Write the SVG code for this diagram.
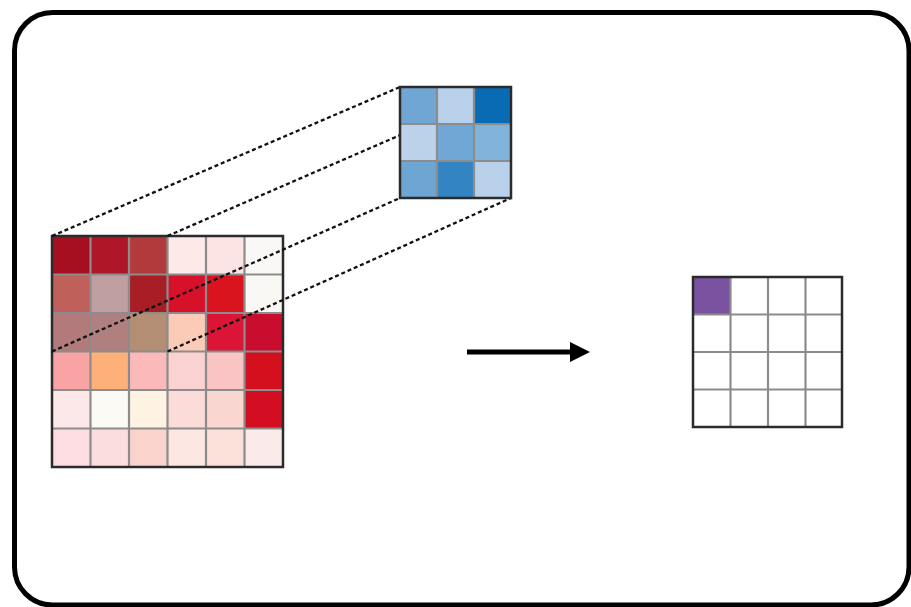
<svg xmlns="http://www.w3.org/2000/svg" width="911" height="607" viewBox="0 0 911 607">
  <style>
    .frame { fill: #ffffff; stroke: #000000; stroke-width: 5; }
    .grid { fill: none; stroke: #8c8c8c; stroke-width: 2.2; }
    .border { fill: none; stroke: #2b2b2b; stroke-width: 2.5; }
    .proj { fill: none; stroke: #111111; stroke-width: 2.3; stroke-dasharray: 4 2.8; }
    .arrow { stroke: #000000; stroke-width: 5; }
  </style>

  <!-- outer rounded frame -->
  <rect class="frame" x="14.5" y="12.5" width="894.5" height="592.5" rx="38" ry="38"/>

  <!-- 6x6 input feature map -->
  <g id="input">
    <g>
      <rect x="52" y="236" width="38.5" height="38.5" fill="#A50F1F"/>
      <rect x="90.5" y="236" width="38.5" height="38.5" fill="#AF1728"/>
      <rect x="129" y="236" width="38.5" height="38.5" fill="#B23A3C"/>
      <rect x="167.5" y="236" width="38.5" height="38.5" fill="#FCE9E8"/>
      <rect x="206" y="236" width="38.5" height="38.5" fill="#FCE4E4"/>
      <rect x="244.5" y="236" width="38.5" height="38.5" fill="#F9F8F7"/>

      <rect x="52" y="274.5" width="38.5" height="38.5" fill="#C0605A"/>
      <rect x="90.5" y="274.5" width="38.5" height="38.5" fill="#BE9EA0"/>
      <rect x="129" y="274.5" width="38.5" height="38.5" fill="#A91E24"/>
      <rect x="167.5" y="274.5" width="38.5" height="38.5" fill="#D8112A"/>
      <rect x="206" y="274.5" width="38.5" height="38.5" fill="#DA141E"/>
      <rect x="244.5" y="274.5" width="38.5" height="38.5" fill="#FAF8F4"/>

      <rect x="52" y="313" width="38.5" height="38.5" fill="#B27A7A"/>
      <rect x="90.5" y="313" width="38.5" height="38.5" fill="#B07F80"/>
      <rect x="129" y="313" width="38.5" height="38.5" fill="#B38D74"/>
      <rect x="167.5" y="313" width="38.5" height="38.5" fill="#FCCBB8"/>
      <rect x="206" y="313" width="38.5" height="38.5" fill="#DB1535"/>
      <rect x="244.5" y="313" width="38.5" height="38.5" fill="#C90D2E"/>

      <rect x="52" y="351.5" width="38.5" height="38.5" fill="#F9A3A5"/>
      <rect x="90.5" y="351.5" width="38.5" height="38.5" fill="#FDB178"/>
      <rect x="129" y="351.5" width="38.5" height="38.5" fill="#FBBAB9"/>
      <rect x="167.5" y="351.5" width="38.5" height="38.5" fill="#F9D2D1"/>
      <rect x="206" y="351.5" width="38.5" height="38.5" fill="#F9C4C3"/>
      <rect x="244.5" y="351.5" width="38.5" height="38.5" fill="#D4101F"/>

      <rect x="52" y="390" width="38.5" height="38.5" fill="#FCE8E8"/>
      <rect x="90.5" y="390" width="38.5" height="38.5" fill="#FBFAF5"/>
      <rect x="129" y="390" width="38.5" height="38.5" fill="#FEF2E2"/>
      <rect x="167.5" y="390" width="38.5" height="38.5" fill="#FBDCD8"/>
      <rect x="206" y="390" width="38.5" height="38.5" fill="#FAD6D0"/>
      <rect x="244.5" y="390" width="38.5" height="38.5" fill="#D30E22"/>

      <rect x="52" y="428.5" width="38.5" height="38.5" fill="#FDDDE2"/>
      <rect x="90.5" y="428.5" width="38.5" height="38.5" fill="#FCDDDD"/>
      <rect x="129" y="428.5" width="38.5" height="38.5" fill="#F9D3CC"/>
      <rect x="167.5" y="428.5" width="38.5" height="38.5" fill="#FCE7E3"/>
      <rect x="206" y="428.5" width="38.5" height="38.5" fill="#FBE0DA"/>
      <rect x="244.5" y="428.5" width="38.5" height="38.5" fill="#FAEBEA"/>
    </g>
    <path class="grid" d="M90.5 236V467M129 236V467M167.5 236V467M206 236V467M244.5 236V467M52 274.5H283M52 313H283M52 351.5H283M52 390H283M52 428.5H283"/>
    <rect class="border" x="52" y="236" width="231" height="231"/>
  </g>

  <!-- projection lines from the 3x3 patch to the kernel -->
  <g id="connectors">
    <line class="proj" x1="52" y1="236" x2="400" y2="87"/>
    <line class="proj" x1="167.5" y1="236" x2="511" y2="87"/>
    <line class="proj" x1="52" y1="351.5" x2="400" y2="198"/>
    <line class="proj" x1="167.5" y1="351.5" x2="511" y2="198"/>
  </g>

  <!-- 3x3 kernel -->
  <g id="kernel">
    <rect x="400" y="87" width="37" height="37" fill="#6FA6D4"/>
    <rect x="437" y="87" width="37" height="37" fill="#B8D0EA"/>
    <rect x="474" y="87" width="37" height="37" fill="#0A6BB5"/>
    <rect x="400" y="124" width="37" height="37" fill="#BBD2EA"/>
    <rect x="437" y="124" width="37" height="37" fill="#6FA8D5"/>
    <rect x="474" y="124" width="37" height="37" fill="#82B3DA"/>
    <rect x="400" y="161" width="37" height="37" fill="#6DA5D3"/>
    <rect x="437" y="161" width="37" height="37" fill="#3384C3"/>
    <rect x="474" y="161" width="37" height="37" fill="#B8D0EA"/>
    <path class="grid" d="M437 87V198M474 87V198M400 124H511M400 161H511"/>
    <rect class="border" x="400" y="87" width="111" height="111"/>
  </g>

  <!-- operation arrow -->
  <g id="arrow">
    <line class="arrow" x1="467" y1="352" x2="572" y2="352"/>
    <polygon points="570,342 590,352 570,362" fill="#000000"/>
  </g>

  <!-- 4x4 output feature map -->
  <g id="output">
    <rect x="693" y="277" width="149" height="150" fill="#ffffff"/>
    <rect x="693" y="277" width="37.5" height="37.5" fill="#7952A0"/>
    <path class="grid" d="M730.5 277V427M768 277V427M805.5 277V427M693 314.5H842M693 352H842M693 389.5H842"/>
    <rect class="border" x="693" y="277" width="149" height="150"/>
  </g>
</svg>
